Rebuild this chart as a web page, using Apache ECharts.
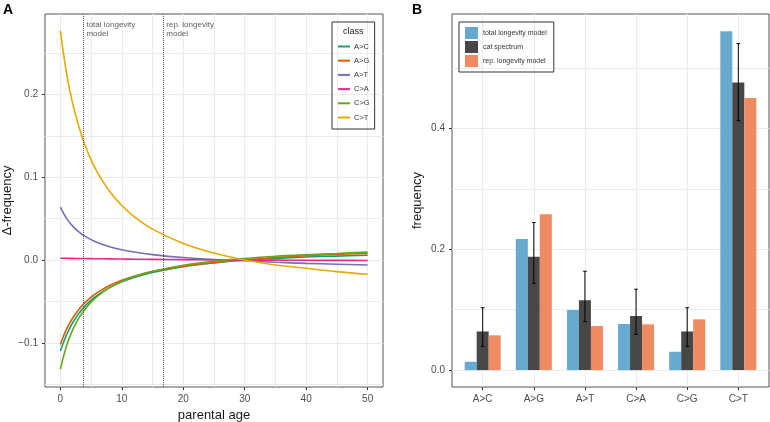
<!DOCTYPE html>
<html>
<head>
<meta charset="utf-8">
<script src="https://cdn.jsdelivr.net/npm/echarts@6/dist/echarts.min.js"></script>
<style>
  html, body { margin: 0; background: #fff; }
  #chart { width: 770px; height: 422px; }
</style>
</head>
<body>
<div id="chart"></div>
<script>
// ---- data ----
var mutationClasses = ["A>C", "A>G", "A>T", "C>A", "C>G", "C>T"];
var classColors = ["#1b9e77", "#d95f02", "#7570b3", "#e7298a", "#66a61e", "#e6ab02"];

// panel A: delta-frequency vs parental age
var ages = [0, 1, 2, 3, 4, 5, 6, 8, 10, 12, 15, 20, 25, 30, 35, 40, 45, 50];
var deltaAC = [-0.110, -0.0904, -0.0758, -0.0646, -0.0557, -0.0485, -0.0426, -0.0333, -0.0264, -0.0210, -0.0150, -0.0080, -0.0034, 0, 0.0020, 0.0037, 0.0048, 0.0058];
var deltaAG = [-0.102, -0.0836, -0.0701, -0.0597, -0.0515, -0.0448, -0.0394, -0.0308, -0.0244, -0.0195, -0.0138, -0.0074, -0.0031, 0, 0.0030, 0.0052, 0.0068, 0.0080];
var deltaAT = [0.064, 0.0504, 0.0410, 0.0341, 0.0289, 0.0247, 0.0213, 0.0162, 0.0125, 0.0097, 0.0066, 0.0030, 0.0007, -0.0009, -0.0027, -0.0040, -0.0050, -0.0060];
var deltaCA = [0.0022, 0.0021, 0.0020, 0.0019, 0.0018, 0.0017, 0.0016, 0.0014, 0.0012, 0.0010, 0.0008, 0.0005, 0.0002, 0, -0.0001, -0.0003, -0.0004, -0.0005];
var deltaCG = [-0.132, -0.1039, -0.0845, -0.0703, -0.0596, -0.0509, -0.0439, -0.0334, -0.0258, -0.0200, -0.0136, -0.0062, -0.0014, 0.0019, 0.0045, 0.0064, 0.0080, 0.0096];
var deltaCT = [0.277, 0.2259, 0.1894, 0.1614, 0.1392, 0.1212, 0.1064, 0.0832, 0.0659, 0.0526, 0.0374, 0.0201, 0.0084, 0, -0.0060, -0.0100, -0.0140, -0.0172];
var deltaSeries = [deltaAC, deltaAG, deltaAT, deltaCA, deltaCG, deltaCT];
var modelAges = [3.75, 16.75];
var modelLabels = ["total longevity\nmodel", "rep. longevity\nmodel"];
var ageTicks = [0, 10, 20, 30, 40, 50];
var ageGrid = [0, 5, 10, 15, 20, 25, 30, 35, 40, 45, 50];
var deltaTicks = [-0.1, 0, 0.1, 0.2];
var deltaGrid = [-0.15, -0.1, -0.05, 0, 0.05, 0.1, 0.15, 0.2, 0.25];

// panel B: frequencies
var barNames = ["total longevity model", "cat spectrum", "rep. longevity model"];
var barColors = ["#67a9cf", "#474747", "#ef8a62"];
var totalModel = [0.0138, 0.2174, 0.0996, 0.0763, 0.0304, 0.5615];
var catSpectrum = [0.064, 0.188, 0.1157, 0.0896, 0.064, 0.4763];
var repModel = [0.0576, 0.2584, 0.073, 0.0758, 0.0841, 0.451];
var catLow = [0.0393, 0.1438, 0.0802, 0.0592, 0.0393, 0.4133];
var catHigh = [0.1034, 0.2445, 0.1638, 0.134, 0.1034, 0.541];
var freqTicks = [0, 0.2, 0.4];
var freqGrid = [0, 0.1, 0.2, 0.3, 0.4, 0.5];

var font = "Liberation Sans, Arial, sans-serif";
var chart = echarts.init(document.getElementById("chart"));

function fmtNum(v) {
  return (v < 0 ? "\u2212" : "") + Math.abs(v).toFixed(1);
}
function pos(i) { return i + 1; }

var lineSeries = mutationClasses.map(function (name, k) {
  return {
    name: name,
    type: "line",
    xAxisIndex: 0,
    yAxisIndex: 0,
    smooth: 0.35,
    symbol: "none",
    lineStyle: { width: 1.6, color: classColors[k] },
    itemStyle: { color: classColors[k] },
    data: ages.map(function (a, i) { return [a, deltaSeries[k][i]]; }),
  };
});
lineSeries[0].markLine = {
  silent: true,
  symbol: "none",
  label: { show: false },
  lineStyle: { type: "dotted", color: "#555", width: 1 },
  data: modelAges.map(function (a) { return { xAxis: a }; }),
};

var barData = [totalModel, catSpectrum, repModel];
var barSeries = barNames.map(function (name, k) {
  return {
    name: name,
    type: "bar",
    xAxisIndex: 2,
    yAxisIndex: 2,
    barWidth: 12,
    barGap: "0%",
    itemStyle: { color: barColors[k] },
    data: barData[k].map(function (v, i) { return [pos(i), v]; }),
  };
});

var noLine = { show: false, onZero: false };
var tickStyle = { length: 3, lineStyle: { color: "#333" } };

var option = {
  animation: false,
  textStyle: { fontFamily: font },
  title: [
    { text: "A", left: 3, top: 3, padding: 0, textStyle: { fontSize: 14, fontWeight: "bold", color: "#000", fontFamily: font } },
    { text: "B", left: 412, top: 3, padding: 0, textStyle: { fontSize: 14, fontWeight: "bold", color: "#000", fontFamily: font } },
    { text: "class", left: 343, top: 27, padding: 0, textStyle: { fontSize: 9, fontWeight: "normal", color: "#1a1a1a", fontFamily: font } },
  ],
  legend: [
    {
      data: mutationClasses,
      orient: "vertical",
      left: 332,
      top: 22,
      padding: [20, 5, 7, 6],
      itemGap: 5.2,
      itemWidth: 12,
      itemHeight: 2,
      icon: "rect",
      borderColor: "#333",
      borderWidth: 1,
      textStyle: { fontSize: 7.5, color: "#333", lineHeight: 9, fontFamily: font, padding: [0, 0, 0, -1] },
    },
    {
      data: barNames,
      orient: "vertical",
      left: 459,
      top: 22,
      padding: [5, 7, 5, 6],
      itemGap: 2,
      itemWidth: 13,
      itemHeight: 12,
      icon: "rect",
      borderColor: "#333",
      borderWidth: 1,
      textStyle: { fontSize: 7, color: "#333", fontFamily: font },
    },
  ],
  grid: [
    { left: 45, top: 14, width: 338, height: 373, show: true, borderColor: "#555", borderWidth: 1, backgroundColor: "transparent", outerBoundsMode: "none" },
    { left: 452, top: 14, width: 317, height: 373, show: true, borderColor: "#555", borderWidth: 1, backgroundColor: "transparent", outerBoundsMode: "none" },
  ],
  xAxis: [
    {
      gridIndex: 0, type: "value", min: -2.5, max: 52.5, position: "bottom",
      axisLine: noLine,
      axisTick: Object.assign({ customValues: ageTicks }, tickStyle),
      axisLabel: { customValues: ageTicks, fontSize: 10, color: "#4d4d4d", margin: 7 },
      splitLine: { show: false },
      name: "parental age", nameLocation: "middle", nameGap: 19,
      nameTextStyle: { fontSize: 13, color: "#1a1a1a" },
    },
    {
      gridIndex: 0, type: "value", min: -2.5, max: 52.5, position: "bottom",
      axisLine: noLine,
      axisTick: { show: false, customValues: ageGrid },
      axisLabel: { show: false, customValues: ageGrid },
      splitLine: { show: true, lineStyle: { color: "#ebebeb", width: 1 } },
    },
    {
      gridIndex: 1, type: "value", min: 0.4, max: 6.6, position: "bottom",
      axisLine: noLine,
      axisTick: Object.assign({ customValues: [1, 2, 3, 4, 5, 6] }, tickStyle),
      axisLabel: {
        customValues: [1, 2, 3, 4, 5, 6], fontSize: 10, color: "#4d4d4d", margin: 7,
        formatter: function (v) { return mutationClasses[Math.round(v) - 1]; },
      },
      splitLine: { show: true, lineStyle: { color: "#ebebeb", width: 1 } },
    },
  ],
  yAxis: [
    {
      gridIndex: 0, type: "value", min: -0.1535, max: 0.2975, position: "left",
      axisLine: noLine,
      axisTick: Object.assign({ customValues: deltaTicks }, tickStyle),
      axisLabel: { customValues: deltaTicks, fontSize: 10, color: "#4d4d4d", margin: 7, formatter: fmtNum },
      splitLine: { show: false },
      name: "\u0394-frequency", nameLocation: "middle", nameGap: 25,
      nameTextStyle: { fontSize: 13, color: "#1a1a1a" },
    },
    {
      gridIndex: 0, type: "value", min: -0.1535, max: 0.2975, position: "left",
      axisLine: noLine,
      axisTick: { show: false, customValues: deltaGrid },
      axisLabel: { show: false, customValues: deltaGrid },
      splitLine: { show: true, lineStyle: { color: "#ebebeb", width: 1 } },
    },
    {
      gridIndex: 1, type: "value", min: -0.028, max: 0.59, position: "left",
      axisLine: noLine,
      axisTick: Object.assign({ customValues: freqTicks }, tickStyle),
      axisLabel: { customValues: freqTicks, fontSize: 10, color: "#4d4d4d", margin: 7, formatter: fmtNum },
      splitLine: { show: false },
      name: "frequency", nameLocation: "middle", nameGap: 28,
      nameTextStyle: { fontSize: 13, color: "#1a1a1a" },
    },
    {
      gridIndex: 1, type: "value", min: -0.028, max: 0.59, position: "left",
      axisLine: noLine,
      axisTick: { show: false, customValues: freqGrid },
      axisLabel: { show: false, customValues: freqGrid },
      splitLine: { show: true, lineStyle: { color: "#ebebeb", width: 1 } },
    },
  ],
  series: lineSeries.concat([
    {
      type: "scatter",
      xAxisIndex: 0,
      yAxisIndex: 0,
      symbolSize: 0,
      silent: true,
      label: {
        show: true, position: "right", distance: 3,
        fontSize: 8, lineHeight: 9.5, color: "#333",
        formatter: function (p) { return p.data[2]; },
      },
      data: modelAges.map(function (a, i) { return [a, 0.279, modelLabels[i]]; }),
    },
  ]).concat(barSeries).concat([
    {
      type: "custom",
      xAxisIndex: 2,
      yAxisIndex: 2,
      silent: true,
      z: 5,
      renderItem: function (params, api) {
        var x = api.value(0);
        var lo = api.coord([x, api.value(1)]);
        var hi = api.coord([x, api.value(2)]);
        var cap = 1.8;
        var style = { stroke: "#000", lineWidth: 1 };
        return {
          type: "group",
          children: [
            { type: "line", shape: { x1: lo[0], y1: lo[1], x2: hi[0], y2: hi[1] }, style: style },
            { type: "line", shape: { x1: lo[0] - cap, y1: lo[1], x2: lo[0] + cap, y2: lo[1] }, style: style },
            { type: "line", shape: { x1: hi[0] - cap, y1: hi[1], x2: hi[0] + cap, y2: hi[1] }, style: style },
          ],
        };
      },
      data: catLow.map(function (v, i) { return [pos(i), v, catHigh[i]]; }),
    },
  ]),
};

option && chart.setOption(option);
</script>
</body>
</html>
